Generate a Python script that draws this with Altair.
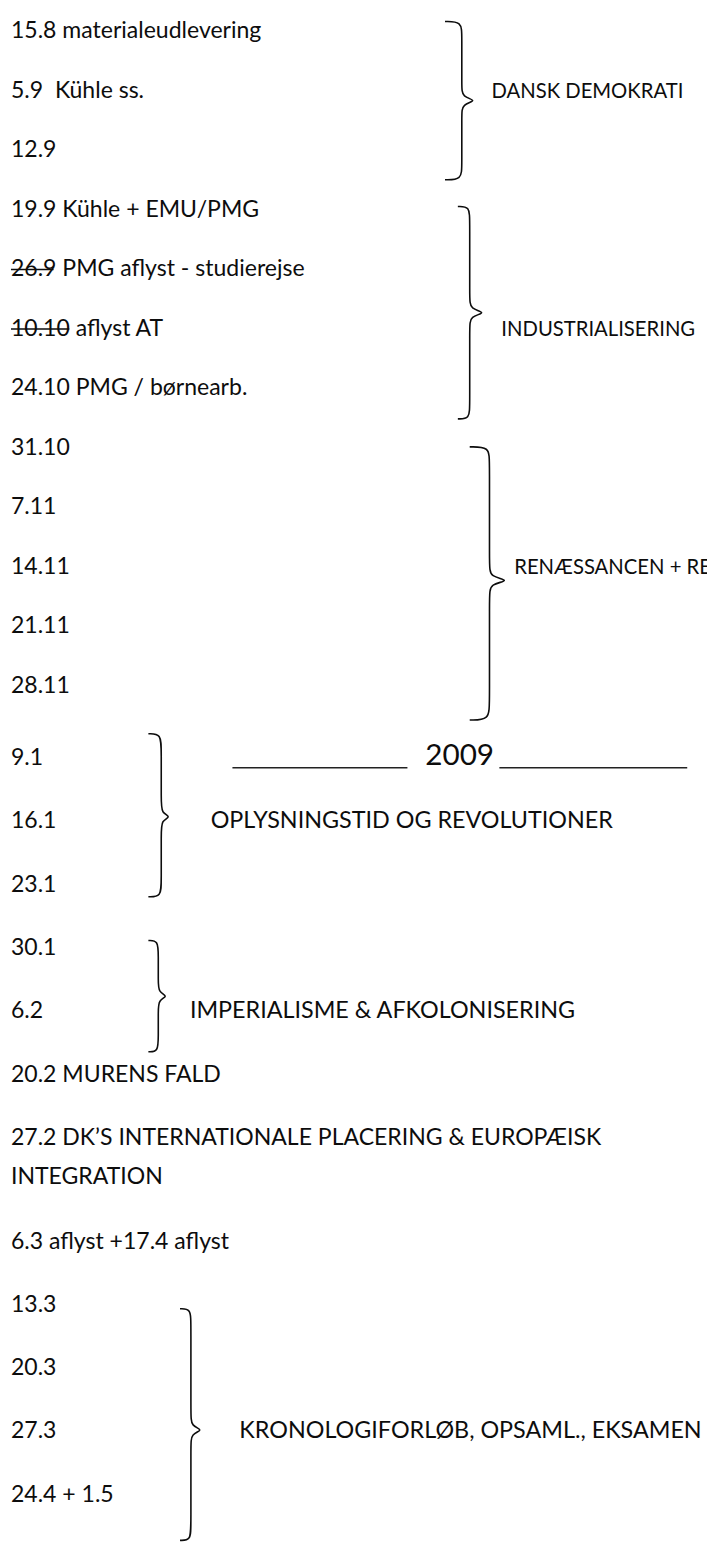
import altair as alt
import pandas as pd

# ---------------- document content ----------------
entry_text = [
    "15.8 materialeudlevering",
    "5.9\u00a0 Kühle ss.",
    "12.9",
    "19.9 Kühle + EMU/PMG",
    "26.9 PMG aflyst - studierejse",
    "10.10 aflyst AT",
    "24.10 PMG / børnearb.",
    "31.10",
    "7.11",
    "14.11",
    "21.11",
    "28.11",
    "9.1",
    "16.1",
    "23.1",
    "30.1",
    "6.2",
    "20.2 MURENS FALD",
    "27.2 DK\u2019S INTERNATIONALE PLACERING & EUROPÆISK\nINTEGRATION",
    "6.3 aflyst +17.4 aflyst",
    "13.3",
    "20.3",
    "27.3",
    "24.4 + 1.5",
]
entry_row = list(range(len(entry_text)))

# crossed-out dates (row, end of the strike)
struck_rows = [4, 5]
struck_end = [54, 70]

# groups marked with a curly brace
group_label = [
    "DANSK DEMOKRATI",
    "INDUSTRIALISERING",
    "RENÆSSANCEN + REFORMATION",
    "OPLYSNINGSTID OG REVOLUTIONER",
    "IMPERIALISME & AFKOLONISERING",
    "KRONOLOGIFORLØB, OPSAML., EKSAMEN",
]
group_label_row = [1, 5, 9, 13, 16, 22]
group_top = [-0.17, 2.94, 6.98, 11.66, 14.88, 20.06]
group_bottom = [2.49, 6.51, 11.47, 14.19, 16.64, 23.72]

# year heading
year_text = ["2009"]
year_row = [11.95]
rule_row = [12.15, 12.15]

# ---------------- layout (horizontal positions on the page) ----------------
entry_x = 11
brace_x0 = [450, 463, 475, 150, 150, 182]
brace_spine = [467, 475, 495, 163, 160, 193]
brace_tip = [478, 487, 510, 170, 167, 202]
label_x = [497, 507, 520, 213, 192, 242]
label_size = [20.5, 20.5, 20.5, 23.6, 23.6, 23.6]
year_x = [430]
rule_x = [235, 505]
rule_x2 = [412, 695]

FONT = "Lato"
FS = 23.3
INK = "#0d0d0d"

# ---------------- tables ----------------
entries = pd.DataFrame({"text": entry_text, "row": entry_row, "x": entry_x})
strikes = pd.DataFrame({"row": struck_rows, "x": entry_x, "x2": struck_end})
labels = pd.DataFrame({"text": group_label, "row": group_label_row,
                       "x": label_x, "fs": label_size})
years = pd.DataFrame({"text": year_text, "row": year_row, "x": year_x})
rules = pd.DataFrame({"row": rule_row, "x": rule_x, "x2": rule_x2})

pts = []
r = 0.12
for g in range(len(group_label)):
    top, bot = group_top[g], group_bottom[g]
    mid = (group_top[g] + (2.49 if g == 0 else 0) * 0 + group_bottom[g]) / 2
    if g == 5:
        mid = (20.06 + 23.89) / 2
    x0, sp, tp = brace_x0[g], brace_spine[g], brace_tip[g]
    tip_ctrl = sp + 1.5 * (tp - sp)
    ctrl = [
        (x0, top), (sp, top), (sp, top + 2 * r),
        (sp, mid - 2 * r), (sp, mid - 0.5 * r), (tip_ctrl, mid),
        (sp, mid + 0.5 * r), (sp, mid + 2 * r),
        (sp, bot - 2 * r), (sp, bot), (x0, bot),
    ]
    for i, (xx, yy) in enumerate(ctrl):
        pts.append({"g": g, "i": i, "x": xx, "row": yy})
braces = pd.DataFrame(pts)

# ---------------- scales ----------------
xs = alt.Scale(domain=[8, 715], nice=False, zero=False)
ys = alt.Scale(
    domain=[0, 11, 12, 18, 19, 23],
    range=[15, 677, 750, 1134, 1239, 1495],
    nice=False,
    zero=False,
)
X = lambda f="x": alt.X(f"{f}:Q", scale=xs, axis=None)
Y = alt.Y("row:Q", scale=ys, axis=None)

text_entries = alt.Chart(entries).mark_text(
    align="left", baseline="alphabetic", dy=7, font=FONT, fontSize=FS,
    color=INK, lineBreak="\n", lineHeight=40,
).encode(x=X(), y=Y, text="text:N")

text_labels = alt.Chart(labels).mark_text(
    align="left", baseline="alphabetic", dy=7, font=FONT, color=INK,
).encode(x=X(), y=Y, text="text:N", size=alt.Size("fs:Q", scale=None, legend=None))

text_year = alt.Chart(years).mark_text(
    align="left", baseline="alphabetic", dy=10, font=FONT, fontSize=30, color=INK,
).encode(x=X(), y=Y, text="text:N")

strike_marks = alt.Chart(strikes).mark_rule(color=INK, strokeWidth=1.6).encode(
    x=X(), x2="x2:Q", y=Y
)

year_rules = alt.Chart(rules).mark_rule(color="#222222", strokeWidth=1.4).encode(
    x=X(), x2="x2:Q", y=Y
)

brace_lines = alt.Chart(braces).mark_line(
    interpolate="basis", color=INK, strokeWidth=1.6
).encode(x=X(), y=Y, detail="g:N", order="i:Q")

chart = (
    alt.layer(brace_lines, year_rules, strike_marks, text_entries, text_labels, text_year)
    .properties(width=707, height=1540, padding=0,
                autosize=alt.AutoSizeParams(type="none"))
    .configure_view(stroke=None)
)

chart.save("out.html", embed_options={"renderer": "svg", "actions": False})
